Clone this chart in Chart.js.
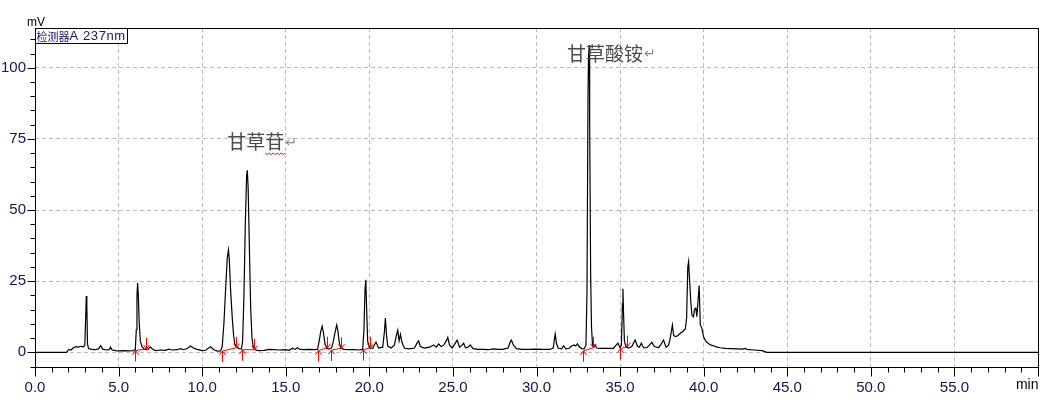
<!DOCTYPE html>
<html>
<head>
<meta charset="utf-8">
<script src="https://cdn.jsdelivr.net/npm/chart.js@4/dist/chart.umd.min.js"></script>
<style>
  html, body { margin: 0; padding: 0; background: #fff; }
  #wrap { width: 1061px; height: 402px; }
</style>
</head>
<body>
<div id="wrap"><canvas id="chrom" width="1061" height="402"></canvas></div>
<script>
// retention time (min) and detector signal (mV)
const times = [
  0, 1.9, 1.95, 2.05, 2.15, 2.3, 2.45, 2.6, 2.75, 2.9,
  2.98, 3.03, 3.07, 3.1, 3.14, 3.2, 3.4, 3.6, 3.8, 3.93,
  4.05, 4.3, 4.45, 4.52, 4.6, 4.8, 5.0, 5.3, 5.6, 5.9,
  6.0, 6.06, 6.1, 6.14, 6.18, 6.23, 6.3, 6.4, 6.5, 6.6,
  6.75, 6.9, 7.0, 7.2, 7.5, 7.8, 8.0, 8.2, 8.5, 8.7,
  8.9, 9.1, 9.3, 9.5, 9.7, 10.0, 10.2, 10.5, 10.7, 10.9,
  11.1, 11.2, 11.3, 11.4, 11.5, 11.57, 11.62, 11.7, 11.8, 11.88,
  11.95, 12.05, 12.2, 12.35, 12.42, 12.5, 12.58, 12.66, 12.7, 12.75,
  12.82, 12.9, 12.98, 13.05, 13.15, 13.4, 13.7, 14.0, 14.3, 14.6,
  15.0, 15.2, 15.4, 15.55, 15.7, 15.85, 16.1, 16.4, 16.7, 16.9,
  17.0, 17.1, 17.18, 17.25, 17.35, 17.45, 17.6, 17.75, 17.85, 17.95,
  18.05, 18.12, 18.2, 18.3, 18.5, 18.8, 19.1, 19.4, 19.6, 19.68,
  19.74, 19.79, 19.84, 19.9, 20.0, 20.2, 20.4, 20.55, 20.8, 20.9,
  20.96, 21.03, 21.1, 21.3, 21.5, 21.62, 21.7, 21.78, 21.86, 21.95,
  22.1, 22.4, 22.7, 22.85, 22.95, 23.05, 23.3, 23.6, 23.85, 24.0,
  24.15, 24.3, 24.45, 24.6, 24.69, 24.8, 24.95, 25.1, 25.25, 25.4,
  25.55, 25.64, 25.75, 25.9, 26.04, 26.2, 26.5, 26.8, 27.1, 27.4,
  27.7, 28.0, 28.3, 28.42, 28.5, 28.62, 28.8, 29.1, 29.5, 30.0,
  30.4, 30.8, 31.0, 31.08, 31.12, 31.2, 31.3, 31.5, 31.62, 31.75,
  31.95, 32.1, 32.25, 32.35, 32.45, 32.55, 32.7, 32.85, 32.96, 33.02,
  33.08, 33.11, 33.16, 33.18, 33.24, 33.29, 33.35, 33.42, 33.5, 33.6,
  33.8, 34.2, 34.6, 34.87, 35.0, 35.08, 35.14, 35.17, 35.21, 35.26,
  35.35, 35.5, 35.7, 35.9, 36.05, 36.15, 36.27, 36.4, 36.6, 36.75,
  36.9, 37.05, 37.3, 37.45, 37.6, 37.75, 37.9, 38.0, 38.13, 38.2,
  38.3, 38.45, 38.6, 38.75, 38.9, 38.98, 39.05, 39.1, 39.15, 39.23,
  39.3, 39.39, 39.45, 39.53, 39.59, 39.65, 39.73, 39.8, 39.89, 39.99,
  40.1, 40.19, 40.4, 40.59, 40.8, 40.99, 41.3, 41.6, 42.0, 42.3,
  42.5, 42.58, 43.0, 43.5, 43.78, 44.0, 60
];
const signal = [
  0, 0, 0.6, 1.0, 0.8, 1.6, 2.0, 1.8, 2.1, 1.9,
  2.5, 12, 19.8, 17, 3, 1.3, 1.0, 0.9, 1.2, 2.3,
  1.1, 0.8, 1.0, 1.8, 0.9, 0.6, 0.5, 0.6, 0.5, 0.6,
  1, 8, 20, 24.3, 20, 11, 4, 2, 1.3, 1.0,
  0.9, 1.9, 1.2, 0.6, 0.8, 0.7, 1.1, 0.8, 0.9, 1.3,
  0.9, 1.3, 2.2, 1.4, 1.0, 0.6, 0.7, 1.9, 0.9, 0.4,
  0.5, 2, 10, 22, 33, 36, 33, 22, 12, 6,
  3, 2, 1.3, 1.2, 4, 20, 45, 62, 64, 58,
  38, 16, 5, 2, 0.9, 0.6, 0.7, 1.0, 0.9, 0.8,
  0.9, 0.7, 1.4, 1.0, 1.6, 1.0, 0.9, 1.0, 0.9, 1.0,
  4, 7.5, 9.2, 7, 3, 1.4, 1.1, 1.6, 4, 7,
  9.6, 7.5, 3.5, 1.4, 1.0, 0.9, 0.9, 0.8, 1.0, 8,
  22, 25.5, 15, 4, 1.5, 1.4, 3.6, 1.5, 1.8, 7,
  12, 6, 2.2, 1.5, 2.5, 6, 7.8, 4, 6.3, 3.5,
  1.4, 1.2, 1.5, 3.2, 4, 2, 1.5, 1.8, 2.6, 1.8,
  2.9, 2.0, 2.5, 4, 5.2, 2.5, 1.5, 2.8, 4.3, 1.8,
  2.5, 3.2, 1.6, 1.8, 2.6, 1.3, 1.0, 1.0, 0.9, 1.2,
  1.0, 1.0, 1.5, 3.5, 4.3, 2.5, 1.3, 1.0, 1.0, 1.1,
  1.0, 1.0, 1.5, 5, 6.4, 3, 1.4, 1.2, 2.3, 1.2,
  1.4, 2.2, 2.6, 2.2, 3.0, 2.0, 1.3, 1.2, 2.5, 20.8,
  90, 104, 108, 80.7, 26.6, 9, 2.6, 1.8, 2.6, 1.5,
  1.4, 1.4, 1.4, 3.2, 1.6, 2.5, 17, 22.3, 13, 4,
  1.8, 1.5, 2.0, 4.3, 2.0, 1.8, 3.2, 1.6, 1.6, 2.5,
  3.5, 2.0, 1.6, 2.8, 4.3, 1.8, 2.5, 5, 9.6, 6,
  5.5, 5.8, 6.7, 7.3, 8.2, 12, 30, 31.9, 26, 17.8,
  13, 12.5, 15, 15.5, 12.5, 17, 23.5, 9.6, 8.5, 5.5,
  4.2, 3.5, 2.6, 2.3, 1.8, 1.6, 1.4, 1.3, 1.2, 1.1,
  1.4, 1.0, 0.8, 0.6, 0, 0, 0
];

// integration marks: peak start / end time and baseline level there
const intStart      = [5.96, 11.17, 12.38, 16.92, 17.73, 19.6, 32.8, 35.01];
const intStartLevel = [0.6, 0.45, 0.9, 0.6, 0.8, 0.9, 0.5, 1.3];
const intEnd        = [6.62, 12.02, 13.12, 17.45, 18.3, 20.03, 33.38, 35.43];
const intEndLevel   = [1.2, 1.6, 0.9, 1.6, 1.4, 1.6, 1.6, 2.0];

// peak names written on the chart (left edge time, middle level in mV)
const peakNames     = ['甘草苷', '甘草酸铵'];
const peakNameTime  = [11.5, 31.82];
const peakNameLevel = [73.9, 105];

const xMajorStep = 5;
const yMajorStep = 25;
const detectorLabel = ['检测器', 'A 237nm'];
const yUnit = 'mV';
const xUnit = 'min';

const tickFont = "'Liberation Sans Narrow', 'Liberation Sans', Arial, sans-serif";
const tickColor = '#14145a';
const gridColor = '#bdbdbd';

function seg(ctx, x1, y1, x2, y2) {
  ctx.beginPath();
  ctx.moveTo(x1, y1);
  ctx.lineTo(x2, y2);
  ctx.stroke();
}

const decor = {
  id: 'decor',
  beforeDraw(chart) {
    const ctx = chart.ctx;
    ctx.save();
    ctx.fillStyle = '#fff';
    ctx.fillRect(0, 0, chart.width, chart.height);
    ctx.restore();
  },
  afterDatasetsDraw(chart) {
    const ctx = chart.ctx, x = chart.scales.x, y = chart.scales.y;
    ctx.save();
    ctx.strokeStyle = '#ff0000';
    ctx.lineWidth = 1;
    for (let i = 0; i < intStart.length; i++) {
      const x1 = Math.round(x.getPixelForValue(intStart[i])) + 0.5;
      const y1 = y.getPixelForValue(intStartLevel[i]);
      const x2 = Math.round(x.getPixelForValue(intEnd[i])) + 0.5;
      const y2 = y.getPixelForValue(intEndLevel[i]);
      seg(ctx, x1, y1, x2, y2);
      // up arrow under the start
      seg(ctx, x1, y1, x1, y1 + 11);
      seg(ctx, x1 - 3, y1 + 4, x1, y1);
      seg(ctx, x1 + 3, y1 + 4, x1, y1);
      // down arrow above the end
      seg(ctx, x2, y2 - 11, x2, y2);
      seg(ctx, x2 - 3, y2 - 4, x2, y2);
      seg(ctx, x2 + 3, y2 - 4, x2, y2);
    }
    ctx.restore();
  },
  afterDraw(chart) {
    const ctx = chart.ctx, x = chart.scales.x, y = chart.scales.y;
    const a = chart.chartArea;
    const L = Math.round(a.left) + 0.5, R = Math.round(a.right) + 0.5;
    const T = Math.round(a.top) + 0.5, B = Math.round(a.bottom) + 0.5;
    ctx.save();
    ctx.strokeStyle = '#000';
    ctx.lineWidth = 1;
    ctx.strokeRect(L, T, R - L, B - T);

    // tick marks, minor every 1 min / 5 mV
    for (let t = x.min; t <= x.max; t++) {
      const px = Math.round(x.getPixelForValue(t)) + 0.5;
      seg(ctx, px, B, px, B + (t % xMajorStep === 0 ? 9 : 5));
    }
    for (let v = -5; v <= 110; v += 5) {
      const py = Math.round(y.getPixelForValue(v)) + 0.5;
      seg(ctx, L - (v % yMajorStep === 0 ? 8 : 5), py, L, py);
    }

    // unit labels
    ctx.fillStyle = '#000';
    ctx.font = "12px 'Liberation Sans', Arial, sans-serif";
    ctx.textAlign = 'left';
    ctx.textBaseline = 'alphabetic';
    ctx.fillText(yUnit, 27, 25.5);
    ctx.font = '14px ' + tickFont;
    ctx.textAlign = 'right';
    ctx.textBaseline = 'middle';
    ctx.fillText(xUnit, R, 385.5);

    // peak names
    ctx.textAlign = 'left';
    ctx.textBaseline = 'middle';
    for (let i = 0; i < peakNames.length; i++) {
      const px = x.getPixelForValue(peakNameTime[i]);
      const py = y.getPixelForValue(peakNameLevel[i]);
      ctx.font = "19px 'Noto Sans CJK SC', sans-serif";
      ctx.fillStyle = '#4a4a4a';
      ctx.fillText(peakNames[i], px, py);
      const w = ctx.measureText(peakNames[i]).width;
      ctx.font = "14px 'DejaVu Sans', sans-serif";
      ctx.fillStyle = '#8a8a8a';
      ctx.fillText('\u21b5', px + w + 1, py + 1);
      if (i === 0) {
        // red wavy underline under the last character
        ctx.strokeStyle = '#e01010';
        ctx.beginPath();
        const x0 = px + w - 19, yb = py + 11;
        for (let k = 0; k <= 10; k++) {
          const xx = x0 + k * 2;
          const yy = yb + (k % 2 === 0 ? 0 : 1.5);
          if (k === 0) ctx.moveTo(xx, yy); else ctx.lineTo(xx, yy);
        }
        ctx.stroke();
      }
    }

    // detector label box
    ctx.fillStyle = '#fff';
    ctx.fillRect(L, T, 92, 15);
    ctx.strokeStyle = '#000';
    ctx.strokeRect(L, T, 92, 15);
    ctx.fillStyle = '#16166a';
    ctx.textAlign = 'left';
    ctx.textBaseline = 'middle';
    ctx.font = "11px 'Noto Sans CJK SC', sans-serif";
    ctx.fillText(detectorLabel[0], L + 1, T + 8);
    const cw = ctx.measureText(detectorLabel[0]).width;
    ctx.font = "13px 'Liberation Sans', Arial, sans-serif";
    ctx.letterSpacing = '0.6px';
    ctx.fillText(detectorLabel[1], L + 1 + cw, T + 8);
    ctx.restore();
  }
};

new Chart(document.getElementById('chrom'), {
  type: 'line',
  data: {
    datasets: [{
      data: times.map((t, i) => ({ x: t, y: signal[i] })),
      borderColor: '#000',
      borderWidth: 1.2,
      pointRadius: 0,
      tension: 0,
      fill: false
    }]
  },
  options: {
    responsive: false,
    animation: false,
    devicePixelRatio: 1,
    layout: { padding: { top: 28, right: 23, left: 0, bottom: 0 } },
    plugins: { legend: { display: false }, tooltip: { enabled: false } },
    scales: {
      x: {
        type: 'linear',
        min: 0,
        max: 60,
        afterFit: s => { s.height = 35.5; },
        border: { display: false, dash: [4, 3] },
        grid: {
          drawTicks: false,
          color: c => (c.tick && c.tick.value > 0 && c.tick.value < 60) ? gridColor : 'rgba(0,0,0,0)'
        },
        ticks: {
          stepSize: xMajorStep,
          autoSkip: false,
          maxRotation: 0,
          padding: 12,
          color: tickColor,
          font: { family: tickFont, size: 15 },
          callback: v => (v >= 60 ? '' : v.toFixed(1))
        }
      },
      y: {
        min: -5,
        max: 114,
        afterFit: s => { s.width = 35; },
        border: { display: false, dash: [4, 3] },
        grid: {
          drawTicks: false,
          color: c => (c.tick && c.tick.value % yMajorStep === 0 && c.tick.value >= 0) ? gridColor : 'rgba(0,0,0,0)'
        },
        ticks: {
          stepSize: 5,
          autoSkip: false,
          padding: 9,
          color: tickColor,
          font: { family: tickFont, size: 15 },
          callback: v => (v % yMajorStep === 0 && v >= 0 ? String(v) : '')
        }
      }
    }
  },
  plugins: [decor]
});
</script>
</body>
</html>
